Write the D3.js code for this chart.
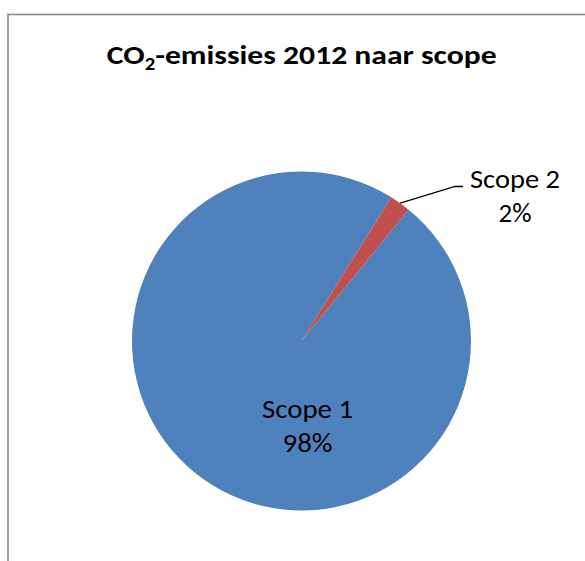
<!DOCTYPE html>
<html>
<head>
<meta charset="utf-8">
<script src="https://cdn.jsdelivr.net/npm/d3@7/dist/d3.min.js"></script>
<style>
  html, body { margin: 0; padding: 0; background: #fff; }
  svg { display: block; }
  text { font-family: Carlito, Calibri, Lato, "Open Sans", sans-serif; fill: #000; }
</style>
</head>
<body>
<svg id="chart" width="585" height="561"></svg>
<script>
const categories = ["Scope 1", "Scope 2"];
const values = [98, 2];
const percentLabels = ["98%", "2%"];
const colors = ["#4F81BD", "#C0504D"];

const svg = d3.select("#chart");

// fit a text element horizontally to a target width, keeping its height
function fitWidth(sel, cx, baseline, target) {
  const w = sel.node().getBBox().width;
  const sx = w > 0 ? target / w : 1;
  sel.attr("transform", `translate(${cx},${baseline}) scale(${sx},1)`);
}

// chart frame (extends beyond the visible area)
svg.append("rect")
  .attr("x", 8).attr("y", 14.5)
  .attr("width", 700).attr("height", 700)
  .attr("fill", "#fff")
  .attr("stroke", "#898989")
  .attr("stroke-width", 1.6);

// title
const title = svg.append("text")
  .attr("x", 0).attr("y", 0)
  .attr("text-anchor", "middle")
  .style("font-weight", "bold")
  .style("font-size", "26px");
title.append("tspan").text("CO");
title.append("tspan").attr("dy", 6).style("font-size", "17px").text("2");
title.append("tspan").attr("dy", -6).text("-emissies 2012 naar scope");
fitWidth(title, 301.7, 63.5, 390);

const cx = 301.5, cy = 341, r = 169.5;
const data = categories.map((c, i) => ({ name: c, value: values[i], label: percentLabels[i], color: colors[i] }));

const start = 39.2 * Math.PI / 180;
const pie = d3.pie().sort(null).value(d => d.value)
  .startAngle(start).endAngle(start + 2 * Math.PI);
const arcs = pie(data);
const arc = d3.arc().innerRadius(0).outerRadius(r);

const g = svg.append("g").attr("transform", `translate(${cx},${cy})`);
g.selectAll("path.slice").data(arcs).enter().append("path")
  .attr("class", "slice")
  .attr("d", arc)
  .attr("fill", d => d.data.color);

function label(x, y, txt, target) {
  const t = g.append("text").attr("text-anchor", "middle").style("font-size", "27px").text(txt);
  fitWidth(t, x, y, target);
}

// Scope 1 label (inside)
const a1 = arcs[0];
label(6, 77, a1.data.name, 91);
label(6, 110.5, a1.data.label, 50);

// Scope 2 label (outside, with leader line)
const a2 = arcs[1];
const mid = (a2.startAngle + a2.endAngle) / 2;
const px = r * Math.sin(mid), py = -r * Math.cos(mid);
const elbowX = 455 - cx, elbowY = 186.5 - cy;
g.append("polyline")
  .attr("points", [[px, py], [elbowX, elbowY], [elbowX + 8, elbowY]].map(p => p.join(",")).join(" "))
  .attr("fill", "none").attr("stroke", "#000").attr("stroke-width", 1.3);
label(515 - cx, 188 - cy, a2.data.name, 90);
label(515 - cx, 221.5 - cy, a2.data.label, 33);
</script>
</body>
</html>
